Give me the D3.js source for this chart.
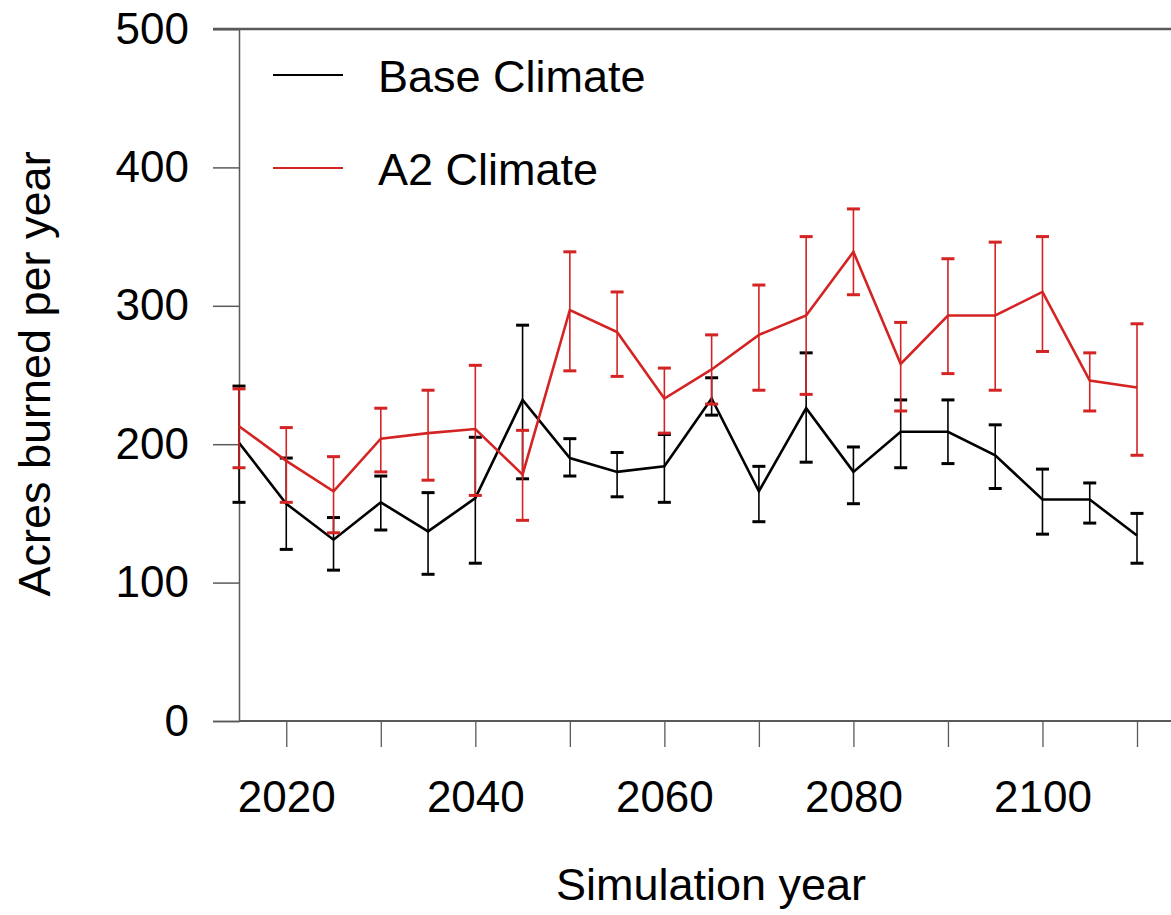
<!DOCTYPE html>
<html>
<head>
<meta charset="utf-8">
<script src="https://cdn.jsdelivr.net/npm/d3@7"></script>
<style>
  html, body { margin: 0; padding: 0; background: #fff; }
  svg { display: block; font-family: "Liberation Sans", Arial, sans-serif; }
</style>
</head>
<body>
<svg id="chart" width="1171" height="915"></svg>
<script>
// Simulation years (5-year steps)
const years = [2015, 2020, 2025, 2030, 2035, 2040, 2045, 2050, 2055, 2060,
               2065, 2070, 2075, 2080, 2085, 2090, 2095, 2100, 2105, 2110];

// Base climate: mean acres burned and error-bar bounds
const baseMean  = [201, 157, 131, 158, 137, 161, 232, 190, 180, 184,
                   233, 166, 226, 180, 209, 209, 192, 160, 160, 134];
const baseUpper = [242, 190, 147, 177, 165, 205, 286, 204, 194, 207,
                   248, 184, 266, 198, 232, 232, 214, 182, 172, 150];
const baseLower = [158, 124, 109, 138, 106, 114, 175, 177, 162, 158,
                   221, 144, 187, 157, 183, 186, 168, 135, 143, 114];

// A2 climate: mean acres burned and error-bar bounds
const a2Mean  = [213, 188, 166, 204, 208, 211, 178, 297, 281, 233,
                 254, 279, 293, 339, 258, 293, 293, 310, 246, 241];
const a2Upper = [240, 212, 191, 226, 239, 257, 210, 339, 310, 255,
                 279, 315, 350, 370, 288, 334, 346, 350, 266, 287];
const a2Lower = [183, 158, 136, 180, 174, 163, 145, 253, 249, 208,
                 229, 239, 236, 308, 224, 251, 239, 267, 224, 192];

const yTicks = [0, 100, 200, 300, 400, 500];
const xMinorTicks = [2020, 2030, 2040, 2050, 2060, 2070, 2080, 2090, 2100, 2110];
const xLabelTicks = [2020, 2040, 2060, 2080, 2100];

const seriesNames = ["Base Climate", "A2 Climate"];
const seriesColors = ["#000000", "#d42323"];

const svg = d3.select("#chart");
const W = 1171;
const axisColor = "#5a5a5a";

const x = d3.scaleLinear().domain([2015, 2110]).range([239, 1137]);
const y = d3.scaleLinear().domain([0, 500]).range([721, 29]);

// Top frame line
svg.append("line")
  .attr("x1", 213).attr("x2", W)
  .attr("y1", y(500)).attr("y2", y(500))
  .attr("stroke", axisColor).attr("stroke-width", 2.5);

// Y axis
const yAxis = d3.axisLeft(y).tickValues(yTicks).tickSize(26).tickPadding(24)
  .tickFormat(d3.format("d"));
const gy = svg.append("g").attr("transform", `translate(${x(2015)},0)`).call(yAxis);
gy.select(".domain").attr("stroke", axisColor).attr("stroke-width", 1.5);
gy.selectAll(".tick line").attr("stroke", axisColor).attr("stroke-width", 1.5);
gy.selectAll(".tick text")
  .attr("font-size", 44).attr("fill", "#000")
  .attr("font-family", "Liberation Sans, Arial, sans-serif");

// X axis baseline
svg.append("line")
  .attr("x1", x(2015)).attr("x2", W)
  .attr("y1", y(0)).attr("y2", y(0))
  .attr("stroke", axisColor).attr("stroke-width", 2);

// X axis ticks every 10 years, labels every 20
const xAxis = d3.axisBottom(x).tickValues(xMinorTicks).tickSize(26).tickPadding(34)
  .tickFormat(d => xLabelTicks.includes(d) ? String(d) : "");
const gx = svg.append("g").attr("transform", `translate(0,${y(0)})`).call(xAxis);
gx.select(".domain").remove();
gx.selectAll(".tick line").attr("stroke", axisColor).attr("stroke-width", 1.3);
gx.selectAll(".tick text")
  .attr("font-size", 44).attr("fill", "#000")
  .attr("font-family", "Liberation Sans, Arial, sans-serif");

// Axis titles
svg.append("text")
  .attr("transform", `translate(50,374) rotate(-90)`)
  .attr("text-anchor", "middle")
  .attr("font-size", 45)
  .attr("fill", "#000")
  .text("Acres burned per year");

svg.append("text")
  .attr("x", 711).attr("y", 900)
  .attr("text-anchor", "middle")
  .attr("font-size", 45)
  .attr("fill", "#000")
  .text("Simulation year");

// Series drawing: error bars then mean line
const series = [
  { mean: baseMean, upper: baseUpper, lower: baseLower, color: seriesColors[0] },
  { mean: a2Mean, upper: a2Upper, lower: a2Lower, color: seriesColors[1] }
];

const capHalf = 6.5;
const line = d3.line().x((d, i) => x(years[i])).y(d => y(d));

series.forEach(s => {
  const g = svg.append("g");
  years.forEach((yr, i) => {
    const cx = x(yr);
    g.append("line")
      .attr("x1", cx).attr("x2", cx)
      .attr("y1", y(s.upper[i])).attr("y2", y(s.lower[i]))
      .attr("stroke", s.color).attr("stroke-width", 1.6);
    [s.upper[i], s.lower[i]].forEach(v => {
      g.append("line")
        .attr("x1", cx - capHalf).attr("x2", cx + capHalf)
        .attr("y1", y(v)).attr("y2", y(v))
        .attr("stroke", s.color).attr("stroke-width", 3);
    });
  });
  g.append("path")
    .datum(s.mean)
    .attr("d", line)
    .attr("fill", "none")
    .attr("stroke", s.color)
    .attr("stroke-width", 2.6)
    .attr("stroke-linejoin", "miter");
});

// Legend
const legendRows = [75, 168];
seriesNames.forEach((name, i) => {
  svg.append("line")
    .attr("x1", 273).attr("x2", 343)
    .attr("y1", legendRows[i]).attr("y2", legendRows[i])
    .attr("stroke", seriesColors[i]).attr("stroke-width", 2);
  svg.append("text")
    .attr("x", 378).attr("y", legendRows[i] + 17)
    .attr("font-size", 45)
    .attr("fill", "#000")
    .text(name);
});
</script>
</body>
</html>
